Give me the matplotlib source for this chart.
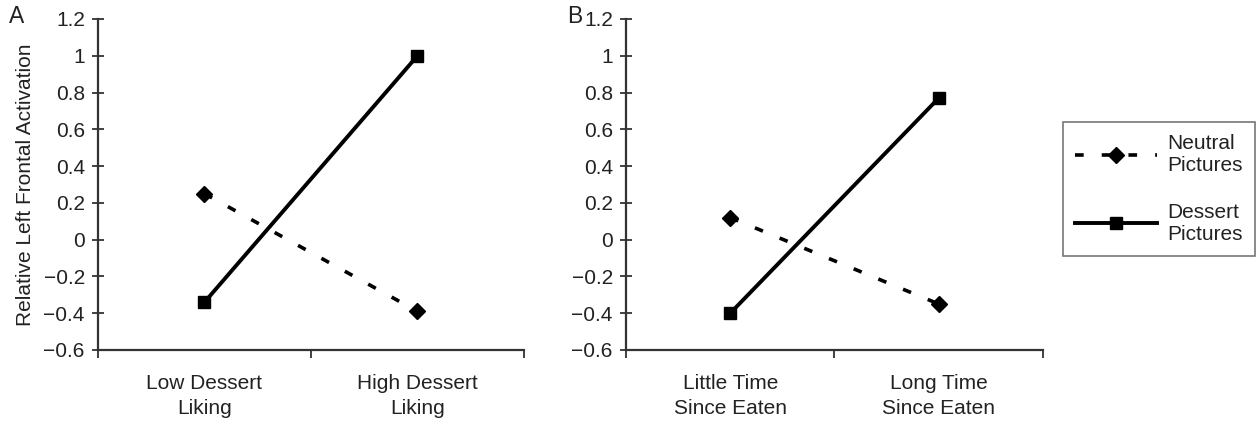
import matplotlib.pyplot as plt

plt.rcParams['font.family'] = ['Liberation Sans', 'DejaVu Sans']

# data
labels_a = ['Low Dessert\nLiking', 'High Dessert\nLiking']
labels_b = ['Little Time\nSince Eaten', 'Long Time\nSince Eaten']
neutral_a = [0.25, -0.39]
dessert_a = [-0.34, 1.0]
neutral_b = [0.12, -0.35]
dessert_b = [-0.40, 0.77]
yticks = [-0.6, -0.4, -0.2, 0, 0.2, 0.4, 0.6, 0.8, 1, 1.2]
ytick_labels = ['\u22120.6', '\u22120.4', '\u22120.2', '0', '0.2', '0.4', '0.6', '0.8', '1', '1.2']

xpos = [0.25, 0.75]
fs = 15


def panel(ax, neutral, dessert, cats):
  ln, = ax.plot(xpos, neutral, color='black', lw=2.6, dashes=(2.4, 5.0),
                marker='D', ms=8, label='Neutral\nPictures')
  ld, = ax.plot(xpos, dessert, color='black', lw=2.8, marker='s', ms=8.5,
                label='Dessert\nPictures')
  ax.set_xlim(0, 1)
  ax.set_ylim(-0.6, 1.2)
  ax.set_yticks(yticks)
  ax.set_yticklabels(ytick_labels, fontsize=fs, color='#222222')
  ax.set_xticks([0, 0.5, 1])
  ax.set_xticklabels([])
  ax.set_xticks(xpos, minor=True)
  ax.set_xticklabels(cats, minor=True, fontsize=fs, linespacing=1.4, color='#222222')
  ax.tick_params(axis='x', which='major', direction='out', length=6, width=1.3, color='#333333')
  ax.tick_params(axis='x', which='minor', length=0, pad=17)
  ax.tick_params(axis='y', direction='inout', length=9, width=1.3, color='#333333', pad=5)
  for s in ['top', 'right']:
    ax.spines[s].set_visible(False)
  for s in ['left', 'bottom']:
    ax.spines[s].set_linewidth(1.6)
    ax.spines[s].set_color('#333333')
  return ln, ld


fig = plt.figure(figsize=(12.58, 4.23), dpi=100)
ax1 = fig.add_axes([0.0779, 0.1726, 0.3386, 0.7825])
ax2 = fig.add_axes([0.4976, 0.1726, 0.3315, 0.7825])

handles = panel(ax1, neutral_a, dessert_a, labels_a)
panel(ax2, neutral_b, dessert_b, labels_b)

ax1.set_ylabel('Relative Left Frontal Activation', fontsize=fs, labelpad=6, color='#222222')
fig.text(0.007, 0.945, 'A', fontsize=16.5, color='#222222')
fig.text(0.451, 0.945, 'B', fontsize=16.5, color='#222222')

leg = fig.legend(handles=handles, loc='center', bbox_to_anchor=(0.9213, 0.5532),
                 fontsize=fs, frameon=True, fancybox=False, edgecolor='#555555',
                 handlelength=3.9, labelspacing=1.3, borderpad=0.6, handletextpad=0.5)
leg.get_frame().set_linewidth(1.2)
for t in leg.get_texts():
  t.set_color('#222222')

fig.savefig('out.png', dpi=100)
